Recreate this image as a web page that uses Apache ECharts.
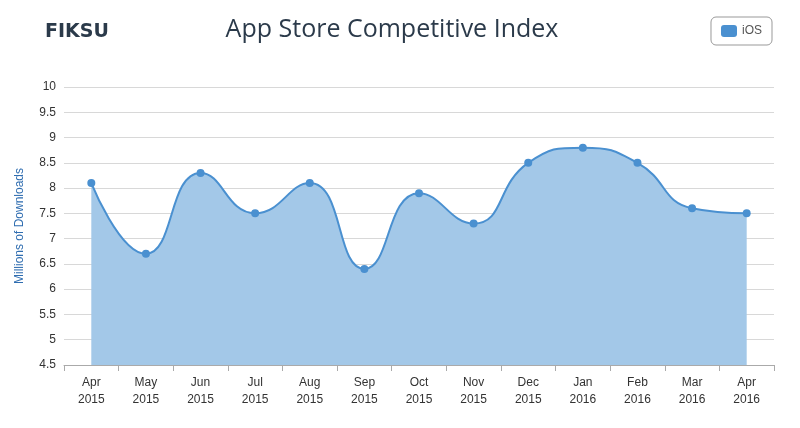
<!DOCTYPE html><html><head><meta charset="utf-8"><script src="https://cdn.jsdelivr.net/npm/echarts@6/dist/echarts.min.js"></script></head><body style="margin:0"><div id="c" style="width:800px;height:428px"></div><script>
const categories=['Apr\n2015','May\n2015','Jun\n2015','Jul\n2015','Aug\n2015','Sep\n2015','Oct\n2015','Nov\n2015','Dec\n2015','Jan\n2016','Feb\n2016','Mar\n2016','Apr\n2016'];
const iosValues=[8.1,6.7,8.3,7.5,8.1,6.4,7.9,7.3,8.5,8.8,8.5,7.6,7.5];
const c=echarts.init(document.getElementById('c'));
c.setOption({
 title:[{text:'App Store Competitive Index',left:387,textAlign:'center',top:12,textStyle:{fontFamily:'Open Sans',fontWeight:'normal',fontSize:25,color:'#2b3a4a'}},
  {text:'FIKSU',left:40,top:18,textStyle:{fontFamily:'DejaVu Sans',fontWeight:'bold',fontSize:19,color:'#2b3a4a'}}],
 legend:{right:28,top:17,data:['iOS'],borderColor:'#999',borderWidth:1,borderRadius:5,padding:[8,10],itemWidth:16,itemHeight:12,textStyle:{color:'#555',fontSize:12},icon:'roundRect'},
 grid:{left:64,right:26,top:87,bottom:63},
 xAxis:{type:'category',data:categories,boundaryGap:true,axisTick:{show:true,alignWithLabel:false,length:6,lineStyle:{color:'#aaa'}},axisLine:{lineStyle:{color:'#aaa'}},axisLabel:{color:'#333',fontSize:12,lineHeight:17,margin:9}},
 yAxis:{type:'value',min:4.5,max:10,interval:0.5,name:'Millions of Downloads',nameLocation:'middle',nameGap:38,nameTextStyle:{color:'#2f6db0',fontSize:12},axisLabel:{color:'#333',fontSize:12},splitLine:{lineStyle:{color:'#d8d8d8'}},axisLine:{show:false}},
 series:[{name:'iOS',type:'line',smooth:0.5,data:iosValues,symbol:'circle',symbolSize:8,itemStyle:{color:'#4a90d0'},lineStyle:{color:'#4a90d0',width:2},areaStyle:{color:'#a3c8e8',opacity:1}}]
});
</script></body></html>
